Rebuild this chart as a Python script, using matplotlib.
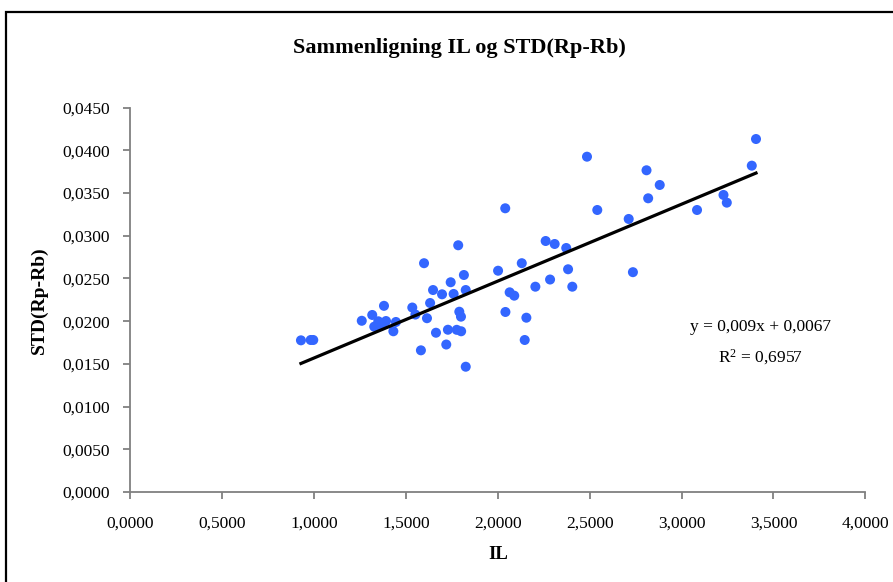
import numpy as np
import matplotlib
matplotlib.use('Agg')
import matplotlib.pyplot as plt
from matplotlib.patches import Rectangle
from matplotlib.ticker import FuncFormatter, MultipleLocator

# IL (x) and STD(Rp-Rb) (y)
il = [0.928, 0.981, 0.995, 1.259, 1.316, 1.380, 1.327, 1.349, 1.391, 1.364,
      1.431, 1.445, 1.534, 1.551, 1.581, 1.598, 1.614, 1.631, 1.647, 1.663,
      1.696, 1.719, 1.728, 1.743, 1.759, 1.784, 1.776, 1.790, 1.799, 1.800,
      1.815, 1.825, 1.825, 2.001, 2.040, 2.041, 2.064, 2.089, 2.130, 2.155,
      2.146, 2.204, 2.260, 2.309, 2.284, 2.372, 2.382, 2.405, 2.485, 2.541,
      2.712, 2.735, 2.809, 2.818, 2.881, 3.084, 3.228, 3.246, 3.382, 3.405]
std = [0.01776, 0.0178, 0.0178, 0.02005, 0.02073, 0.02180, 0.01936, 0.01999, 0.02002, 0.01947,
       0.01882, 0.01991, 0.02160, 0.02078, 0.01659, 0.02679, 0.02035, 0.02213, 0.02365, 0.01865,
       0.02315, 0.01727, 0.01900, 0.02456, 0.02319, 0.02889, 0.01899, 0.02111, 0.02053, 0.01882,
       0.02541, 0.02365, 0.01467, 0.02591, 0.03322, 0.02108, 0.02338, 0.02299, 0.02679, 0.02041,
       0.01780, 0.02404, 0.02939, 0.02904, 0.02488, 0.02857, 0.02608, 0.02404, 0.03926, 0.03302,
       0.03197, 0.02574, 0.03767, 0.03439, 0.03595, 0.03302, 0.03478, 0.03388, 0.03821, 0.04133]

# linear trendline as printed on the chart
slope = 0.009
intercept = 0.0067
r2 = 0.6957

fig = plt.figure(figsize=(8.93, 5.82), dpi=100)
ax = fig.add_axes([0.1461, 0.1546, 0.8229, 0.6604])

serif = 'Liberation Serif'

ax.scatter(il, std, s=52, color='#3366FF', edgecolors='none', zorder=3)

x_line = np.array([min(il), max(il)])
ax.plot(x_line, slope * x_line + intercept, color='black', lw=2.3, zorder=4)

ax.set_xlim(0, 4.0)
ax.set_ylim(0, 0.045)
ax.xaxis.set_major_locator(MultipleLocator(0.5))
ax.yaxis.set_major_locator(MultipleLocator(0.005))
comma = FuncFormatter(lambda v, p: ('%.4f' % v).replace('.', ','))
ax.xaxis.set_major_formatter(comma)
ax.yaxis.set_major_formatter(comma)

for side in ['top', 'right']:
    ax.spines[side].set_visible(False)
for side in ['left', 'bottom']:
    ax.spines[side].set_color('#808080')
    ax.spines[side].set_linewidth(1.3)
ax.tick_params(direction='out', length=5, width=1.3, color='#808080', labelsize=12.5)
ax.tick_params(axis='y', pad=10)
ax.tick_params(axis='x', pad=12)
for lab in ax.get_xticklabels() + ax.get_yticklabels():
    lab.set_fontfamily(serif)

ax.set_xlabel('IL', fontfamily=serif, fontweight='bold', fontsize=13.5, labelpad=10)
ax.set_ylabel('STD(Rp-Rb)', fontfamily=serif, fontweight='bold', fontsize=14, labelpad=10)

fig.text(0.515, 0.917, 'Sammenligning IL og STD(Rp-Rb)', ha='center', va='center',
         fontfamily=serif, fontweight='bold', fontsize=16)

eq = 'y = ' + ('%.3f' % slope).replace('.', ',') + 'x + ' + ('%.4f' % intercept).replace('.', ',')
fig.text(760 / 893, 1 - 327 / 582, eq, ha='center', va='center',
         fontfamily=serif, fontsize=12.5)
fig.text(760 / 893, 1 - 357 / 582, '$\\mathregular{R^2}$ = ' + ('%.4f' % r2).replace('.', ','),
         ha='center', va='center', fontfamily=serif, fontsize=12.5)

# chart border
fig.patches.append(Rectangle((6 / 893, -0.1), 1.2, 1.1 - 12 / 582, transform=fig.transFigure,
                             fill=False, edgecolor='black', lw=1.6))

fig.savefig('out.png', dpi=100)
